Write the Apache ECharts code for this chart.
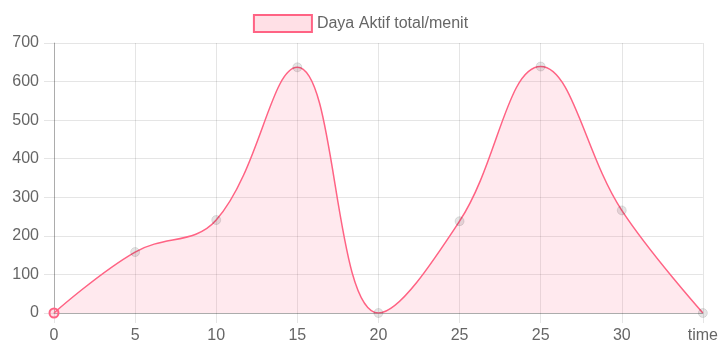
<!DOCTYPE html>
<html>
<head>
<meta charset="utf-8">
<script src="https://cdn.jsdelivr.net/npm/echarts@6/dist/echarts.min.js"></script>
<style>
  html, body { margin: 0; padding: 0; background: #fff; }
  #chart { width: 721px; height: 346px; }
</style>
</head>
<body>
<div id="chart"></div>
<script>
const categories = ['0', '5', '10', '15', '20', '25', '25', '30', 'time']
const values = [0, 158, 241, 637, 0, 238, 639, 266, 0]
const seriesName = 'Daya Aktif total/menit'

const pink = 'rgb(255, 99, 132)'
const textColor = '#666'
const font = 'Liberation Sans'

const chart = echarts.init(document.getElementById('chart'), null, { renderer: 'canvas' })

// first point is drawn pink, the rest are grey dots
const seriesData = values.map((v, i) => i === 0
  ? { value: v, itemStyle: { color: 'rgba(255, 99, 132, 0.2)', borderColor: pink, borderWidth: 2 } }
  : v)

chart.setOption({
  animation: false,
  textStyle: { fontFamily: font },
  legend: {
    top: 9,
    left: 'center',
    itemWidth: 58,
    itemHeight: 17,
    itemGap: 8,
    textStyle: { color: textColor, fontSize: 16, fontFamily: font },
    data: [{
      name: seriesName,
      icon: 'rect',
      itemStyle: { color: 'rgba(255, 99, 132, 0.2)', borderColor: pink, borderWidth: 2 }
    }]
  },
  grid: { left: 54, right: 16, top: 43, bottom: 33 },
  xAxis: {
    type: 'category',
    data: categories,
    boundaryGap: false,
    axisLine: { lineStyle: { color: 'rgba(0,0,0,0.25)', width: 1 } },
    axisTick: { show: true, length: 10, lineStyle: { color: 'rgba(0,0,0,0.1)' } },
    axisLabel: { color: textColor, fontSize: 16, margin: 15, fontFamily: font },
    splitLine: { show: true, lineStyle: { color: 'rgba(0,0,0,0.1)' } }
  },
  yAxis: {
    type: 'value',
    min: 0,
    max: 700,
    interval: 100,
    axisLine: { show: true, lineStyle: { color: 'rgba(0,0,0,0.25)', width: 1 } },
    axisTick: { show: true, length: 10, lineStyle: { color: 'rgba(0,0,0,0.1)' } },
    axisLabel: { color: textColor, fontSize: 16, margin: 15, fontFamily: font },
    splitLine: { lineStyle: { color: 'rgba(0,0,0,0.1)' } }
  },
  series: [{
    name: seriesName,
    type: 'line',
    data: seriesData,
    smooth: 0.4,
    symbol: 'circle',
    symbolSize: 9,
    showAllSymbol: true,
    lineStyle: { color: pink, width: 1.5 },
    itemStyle: { color: 'rgba(0,0,0,0.1)', borderColor: 'rgba(0,0,0,0.1)', borderWidth: 1 },
    areaStyle: { color: 'rgba(255, 99, 132, 0.2)' }
  }]
})
</script>
</body>
</html>
